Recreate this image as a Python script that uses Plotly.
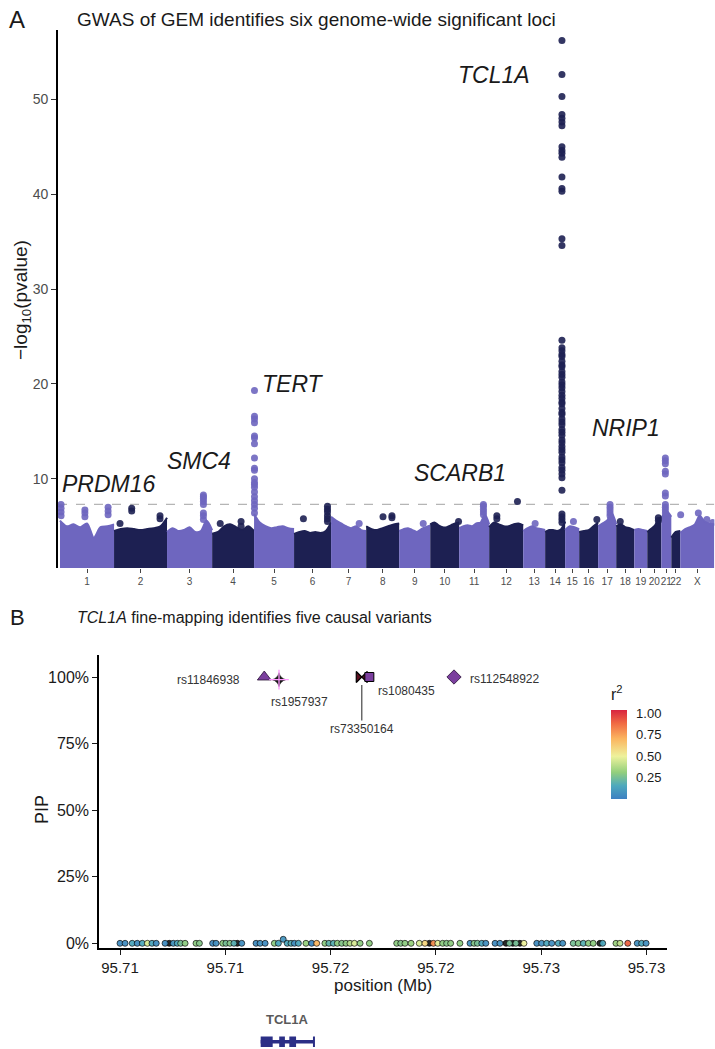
import plotly.graph_objects as go

W, H = 715, 1049


def px(x):
    return x / W


def py(y):
    return 1 - y / H


NARROW = "Liberation Sans Narrow, Arial Narrow, Liberation Sans, Arial, sans-serif"
SANS = "Liberation Sans, Arial, Helvetica, sans-serif"

# ======================= Panel A data (Manhattan) =======================
chrom_names = [str(i) for i in range(1, 23)] + ["X"]
# plotted span of each chromosome (Mb-equivalent units)
chrom_span = [254, 249, 212, 197, 188, 174, 165, 155, 146, 136, 141, 160,
              103, 94, 66, 89, 85, 85, 61, 66, 47, 42, 160]
# upper envelope of the dense background point cloud (-log10 p), evenly spaced per chromosome
skyline_logp = [
    [5.6, 5.0, 5.2, 4.9, 5.3, 3.8, 4.9, 5.0, 5.2],
    [4.5, 4.7, 4.8, 4.7, 4.6, 4.7, 4.8, 5.0, 5.9],
    [4.4, 4.8, 4.5, 4.6, 4.9, 4.4, 4.5, 5.6, 4.6],
    [4.2, 4.4, 5.0, 5.2, 4.9, 4.6, 5.0, 4.5],
    [6.3, 5.4, 5.0, 4.8, 4.9, 5.0, 4.8, 4.7],
    [4.2, 4.4, 4.5, 4.3, 4.4, 4.3, 4.5, 5.4],
    [6.0, 5.6, 5.3, 5.0, 4.8, 5.0, 4.6, 4.5],
    [5.0, 4.7, 4.6, 4.8, 5.0, 5.2, 5.3],
    [4.5, 4.7, 4.8, 4.6, 4.4, 4.7, 4.9, 5.1],
    [5.2, 5.4, 5.1, 4.9, 4.9, 5.1, 5.3, 5.4],
    [4.8, 5.0, 5.1, 5.0, 5.3, 5.4, 6.2, 5.2],
    [4.9, 5.4, 5.2, 5.0, 5.0, 5.2, 5.3, 5.1],
    [4.5, 4.8, 5.0, 4.8, 4.7, 4.6],
    [4.4, 4.6, 4.6, 4.5, 4.7, 5.5],
    [4.6, 5.0, 4.9, 4.7],
    [4.4, 4.5, 4.6, 5.0, 5.4],
    [5.0, 5.3, 5.6, 6.4, 5.2],
    [5.0, 5.2, 4.9, 4.8, 4.6],
    [4.6, 4.7, 4.6, 4.5],
    [4.4, 4.7, 5.0, 5.6, 6.0],
    [5.8, 6.6, 6.0],
    [3.8, 4.4, 4.5],
    [4.3, 4.7, 4.9, 5.2, 6.1, 5.5, 5.3, 5.2],
]
# individual SNPs standing above the background cloud
hit_chrom = ["1", "1", "1", "2", "2", "2", "3", "4", "4", "5", "6", "6", "7", "8", "8",
             "9", "10", "11", "12", "12", "13", "14", "15", "16", "17", "18", "20", "21",
             "X", "X", "X", "X"]
hit_offset = [5, 117, 226, 28, 83, 216, 171, 38, 136, 2, 44, 157, 132, 79, 121,
              113, 133, 114, 36, 133, 56, 79, 39, 83, 56, 19, 52, 19,
              2, 85, 125, 153]
hit_logp = [
    [7.3, 6.9, 6.5, 6.1],
    [6.7, 6.4, 6.0],
    [7.0, 6.6, 6.2],
    [5.3],
    [6.9, 6.6],
    [6.1, 5.8],
    [8.3, 8.1, 7.9, 7.6, 7.3, 6.4, 6.1, 5.7],
    [5.3],
    [5.5, 5.0],
    [19.3, 16.6, 16.3, 15.9, 14.5, 14.3, 13.7, 12.2, 11.1, 10.9, 10.0, 9.6, 9.4,
     9.1, 8.6, 8.1, 7.7, 7.3, 6.9, 6.4],
    [5.8],
    [7.1, 6.8, 6.5, 6.1, 5.8, 5.5],
    [5.3],
    [6.0],
    [6.1, 5.9],
    [5.3],
    [5.5],
    [7.3, 7.1, 6.8, 6.5, 6.2],
    [6.1, 5.8],
    [7.6],
    [5.3],
    [56.2, 52.6, 50.3, 48.4, 48.0, 47.6, 47.2, 45.0, 44.6, 44.3, 43.9, 41.8, 40.6,
     40.3, 35.3, 34.6, 24.6, 23.8, 23.5, 23.1, 22.9, 22.4, 22.0, 21.8, 21.3, 21.0,
     20.7, 20.2, 19.9, 19.6, 19.2, 18.8, 18.5, 18.1, 17.9, 17.4, 17.0, 16.8, 16.3,
     16.0, 15.7, 15.2, 14.9, 14.6, 14.1, 13.8, 13.4, 13.1, 12.8, 12.3, 12.0, 11.7,
     11.2, 10.9, 10.5, 10.1, 8.8, 6.3, 6.0, 5.7, 5.4],
    [5.5],
    [5.7],
    [7.3, 7.0, 6.7, 6.4, 6.1],
    [5.5],
    [5.9, 5.6],
    [12.2, 11.9, 11.6, 10.8, 10.5, 8.5, 8.2, 7.3, 7.0, 6.7, 6.4],
    [6.2],
    [6.4],
    [5.7],
    [5.4],
]
gw_threshold = 7.3  # -log10(5e-8)
locus_labels = ["PRDM16", "SMC4", "TERT", "SCARB1", "TCL1A", "NRIP1"]
y_ticks_a = [10, 20, 30, 40, 50]

# ======================= Panel B data (fine-mapping) =======================
lead_snp = ["rs11846938", "rs1957937", "rs73350164", "rs1080435", "rs112548922"]
lead_pos = [95.71685, 95.71755, 95.72148, 95.72184, 95.72586]
lead_pip = [1.00, 0.99, 1.00, 1.00, 1.00]

bg_pos = [95.71000, 95.71024, 95.71058, 95.71082, 95.71106, 95.71130, 95.71152, 95.71172,
          95.71214, 95.71234, 95.71253, 95.71272, 95.71288, 95.71309,
          95.71361, 95.71377,
          95.71440, 95.71456, 95.71488, 95.71503, 95.71522, 95.71541, 95.71557, 95.71578,
          95.71646, 95.71665, 95.71689,
          95.71733, 95.71752, 95.71775, 95.71794, 95.71812, 95.71828, 95.71847,
          95.71883, 95.71910, 95.71934,
          95.71973, 95.71992, 95.72013, 95.72032, 95.72053, 95.72073, 95.72092, 95.72113,
          95.72140, 95.72184,
          95.72314, 95.72333, 95.72353, 95.72382, 95.72421, 95.72448, 95.72469, 95.72488,
          95.72509, 95.72532, 95.72551, 95.72570, 95.72614,
          95.72662, 95.72681, 95.72697, 95.72718, 95.72737,
          95.72781, 95.72804, 95.72833, 95.72849, 95.72865, 95.72880, 95.72899, 95.72918,
          95.72979, 95.73002, 95.73026, 95.73050, 95.73081, 95.73102,
          95.73152, 95.73176, 95.73200, 95.73224, 95.73247, 95.73279, 95.73292,
          95.73355, 95.73374, 95.73411, 95.73456, 95.73477, 95.73498]
bg_r2 = [0.05, 0.05, 0.15, 0.05, 0.15, 0.45, 0.15, 0.05,
         0.05, None, 0.08, 0.15, 0.25, 0.30,
         0.30, 0.28,
         0.05, 0.06, 0.30, 0.25, 0.28, 0.18, None, 0.06,
         0.05, 0.07, 0.05,
         0.30, 0.15, 0.08, 0.15, 0.18, 0.06, 0.15,
         0.32, 0.03, 0.70,
         0.30, 0.20, 0.18, 0.30, 0.28, 0.30, 0.38, 0.45,
         0.30, 0.30,
         0.30, 0.28, 0.30, 0.32, 0.45, 0.60, None, 0.80,
         0.48, 0.30, 0.28, 0.30, 0.30,
         0.06, 0.28, 0.25, 0.15, 0.06,
         0.05, 0.06, None, 0.25, None, 0.25, None, 0.50,
         0.05, 0.07, 0.15, 0.06, 0.15, 0.06,
         0.25, 0.28, 0.18, 0.30, 0.30, None, 0.15,
         0.33, 0.40, 0.90, 0.06, 0.15, 0.06]
bg_pip = [0.0] * len(bg_pos)
bg_pip[bg_pos.index(95.71775)] = 0.015

x_ticks_b = [95.710, 95.715, 95.720, 95.725, 95.730, 95.735]
x_tick_labels_b = ["95.71", "95.71", "95.72", "95.72", "95.73", "95.73"]
y_ticks_b = [0, 0.25, 0.5, 0.75, 1.0]
y_tick_labels_b = ["0%", "25%", "50%", "75%", "100%"]

gene_name = "TCL1A"
gene_span = [95.71668, 95.71921]
gene_exons = [[95.71668, 95.71725], [95.71756, 95.71783], [95.71804, 95.71836]]

# ======================= build figure =======================
LIGHT = "#6e66bf"
DARK = "#1d2052"
PURPLE = "#7b3f9e"

fig = go.Figure()

chrom_start = []
acc = 0
for s in chrom_span:
    chrom_start.append(acc)
    acc += s
genome_end = acc
chrom_center = [st + sp / 2 for st, sp in zip(chrom_start, chrom_span)]
chrom_color = {c: (LIGHT if i % 2 == 0 else DARK) for i, c in enumerate(chrom_names)}

# background cloud
for i, c in enumerate(chrom_names):
    hs = skyline_logp[i]
    n = len(hs)
    xs = [chrom_start[i] + k * chrom_span[i] / (n - 1) for k in range(n)]
    fig.add_trace(go.Scatter(
        x=xs, y=hs, mode="lines", fill="tozeroy", fillcolor=chrom_color[c],
        line=dict(color=chrom_color[c], width=2, shape="spline", smoothing=0.8),
        xaxis="x", yaxis="y", hoverinfo="skip", showlegend=False))

# stand-alone SNPs
for c in chrom_names:
    xs, ys = [], []
    for hc, off, vals in zip(hit_chrom, hit_offset, hit_logp):
        if hc != c:
            continue
        ci = chrom_names.index(hc)
        for v in vals:
            xs.append(chrom_start[ci] + off)
            ys.append(v)
    if xs:
        fig.add_trace(go.Scatter(
            x=xs, y=ys, mode="markers",
            marker=dict(size=7, color=chrom_color[c], opacity=0.9, line=dict(width=0)),
            xaxis="x", yaxis="y", showlegend=False))

# ---- panel B traces ----
cs = [[0.0, "#3d80c2"], [0.15, "#4ea9bd"], [0.3, "#93cf7c"], [0.48, "#eef29c"],
      [0.68, "#fbb45f"], [0.85, "#f06a43"], [1.0, "#d8243f"]]
na_x = [p for p, r in zip(bg_pos, bg_r2) if r is None]
na_y = [q for q, r in zip(bg_pip, bg_r2) if r is None]
ok_x = [p for p, r in zip(bg_pos, bg_r2) if r is not None]
ok_y = [q for q, r in zip(bg_pip, bg_r2) if r is not None]
ok_c = [r for r in bg_r2 if r is not None]
fig.add_trace(go.Scatter(
    x=na_x, y=na_y, mode="markers", xaxis="x2", yaxis="y2",
    marker=dict(size=6, color="#2b2b2b", line=dict(color="black", width=0.7)),
    showlegend=False))
fig.add_trace(go.Scatter(
    x=ok_x, y=ok_y, mode="markers", xaxis="x2", yaxis="y2",
    marker=dict(size=6, color=ok_c, colorscale=cs, cmin=0, cmax=1.04, opacity=0.95,
                line=dict(color="black", width=0.7),
                colorbar=dict(
                    x=px(611), xanchor="left", xpad=0,
                    y=py(742), yanchor="middle", ypad=0,
                    len=114, lenmode="pixels", thickness=16, thicknessmode="pixels",
                    outlinewidth=0,
                    tickvals=[0.25, 0.5, 0.75, 1.0],
                    ticktext=["0.25", "0.50", "0.75", "1.00"],
                    ticks="outside", ticklen=7, tickcolor="rgba(0,0,0,0)",
                    tickfont=dict(family=SANS, size=13, color="#1a1a1a"),
                    title=dict(text="r<sup>2</sup>", side="top",
                               font=dict(family=SANS, size=16, color="#1a1a1a")))),
    showlegend=False))

lead_style = {
    "rs11846938": dict(symbol="triangle-up", size=12, color=PURPLE, line=dict(color="#2a1236", width=0.8)),
    "rs1957937": dict(symbol="star-diamond", size=10, color="#1a1a1a", line=dict(color="#1a1a1a", width=0.5)),
    "rs73350164": dict(symbol="bowtie", size=11, color="#5c0f1f", line=dict(color="black", width=1.2)),
    "rs1080435": dict(symbol="square", size=9, color=PURPLE, line=dict(color="black", width=1)),
    "rs112548922": dict(symbol="diamond", size=11, color=PURPLE, line=dict(color="#2a1236", width=0.8)),
}
for s, p, q in zip(lead_snp, lead_pos, lead_pip):
    fig.add_trace(go.Scatter(x=[p], y=[q], mode="markers", xaxis="x2", yaxis="y2",
                             marker=lead_style[s], showlegend=False))
    if s == "rs1957937":
        fig.add_trace(go.Scatter(x=[p], y=[q], mode="markers", xaxis="x2", yaxis="y2",
                                 marker=dict(symbol="cross-thin-open", size=14,
                                             line=dict(color="#1a1a1a", width=1.3)),
                                 showlegend=False))

# ======================= annotations =======================
ann = []


def paper_text(text, x, y, font, angle=0, xanchor="center"):
    ann.append(dict(text=text, x=px(x), y=py(y), xref="paper", yref="paper",
                    xanchor=xanchor, yanchor="middle", textangle=angle,
                    showarrow=False, font=font))


paper_text("A", 17, 20, dict(family=SANS, size=24, color="#1a1a1a"))
paper_text("GWAS of GEM identifies six genome-wide significant loci", 75, 20,
           dict(family=NARROW, size=19, color="#1a1a1a"), xanchor="left")
label_px = {"PRDM16": (109, 484), "SMC4": (199, 461), "TERT": (293, 384),
            "SCARB1": (460, 473), "TCL1A": (494, 75), "NRIP1": (626, 428)}
for lab in locus_labels:
    lx, ly = label_px[lab]
    paper_text(f"<i>{lab}</i>", lx, ly, dict(family=NARROW, size=23, color="#1a1a1a"))
paper_text("−log<sub>10</sub>(pvalue)", 22, 300,
           dict(family=NARROW, size=19, color="#1a1a1a"), angle=-90)

paper_text("B", 17, 617, dict(family=SANS, size=22, color="#1a1a1a"))
paper_text("<i>TCL1A</i> fine-mapping identifies five causal variants", 75, 617,
           dict(family=SANS, size=16, color="#1a1a1a"), xanchor="left")
paper_text("PIP", 42, 810, dict(family=SANS, size=18, color="#1a1a1a"), angle=-90)
paper_text("position (Mb)", 383, 985, dict(family=SANS, size=17, color="#1a1a1a"))

lab_font = dict(family=SANS, size=12, color="#333333")
lab_cfg = {
    "rs11846938": dict(xanchor="right", xshift=-22, yshift=-3),
    "rs1957937": dict(xanchor="center", xshift=20, yshift=-22),
    "rs1080435": dict(xanchor="center", xshift=37, yshift=-14),
    "rs112548922": dict(xanchor="left", xshift=14, yshift=-2),
}
for s, p, q in zip(lead_snp, lead_pos, lead_pip):
    if s == "rs73350164":
        ann.append(dict(text=s, x=p, y=q, xref="x2", yref="y2", showarrow=True,
                        arrowhead=0, arrowwidth=1.3, arrowcolor="#555555", ax=0, ay=52,
                        standoff=8, font=lab_font))
    else:
        cfg = lab_cfg[s]
        ann.append(dict(text=s, x=p, y=q, xref="x2", yref="y2", showarrow=False,
                        yanchor="middle", font=lab_font, **cfg))

ann.append(dict(text=f"<b>{gene_name}</b>", x=(gene_span[0] + gene_span[1]) / 2, y=py(1019),
                xref="x2", yref="paper", xanchor="center", yanchor="middle", showarrow=False,
                font=dict(family=SANS, size=13, color="#5a5a5a")))

# ======================= shapes =======================
shapes = [dict(type="line", xref="x", yref="y", x0=-9.4, x1=genome_end, y0=gw_threshold,
               y1=gw_threshold, line=dict(color="#b5b5b5", width=1.3, dash="dash"),
               layer="below")]
GENE = "#2b2f86"
shapes.append(dict(type="rect", xref="x2", yref="paper", x0=gene_span[0], x1=gene_span[1],
                   y0=py(1043.5), y1=py(1040), fillcolor=GENE, line=dict(width=0)))
for e0, e1 in gene_exons:
    shapes.append(dict(type="rect", xref="x2", yref="paper", x0=e0, x1=e1,
                       y0=py(1047), y1=py(1036.5), fillcolor=GENE, line=dict(width=0)))
shapes.append(dict(type="line", xref="x2", yref="paper", x0=gene_span[1], x1=gene_span[1],
                   y0=py(1047), y1=py(1036.5), line=dict(color=GENE, width=2)))

fig.update_layout(
    width=W, height=H, margin=dict(l=0, r=0, t=0, b=0, autoexpand=False),
    paper_bgcolor="white", plot_bgcolor="white",
    showlegend=False,
    annotations=ann, shapes=shapes,
    xaxis=dict(domain=[px(58), px(714.3)], range=[-9.4, genome_end], anchor="y",
               tickvals=chrom_center, ticktext=chrom_names, tickangle=0, ticks="outside",
               ticklen=4, tickcolor="#444444", tickwidth=1, showline=False, showgrid=False,
               zeroline=False, tickfont=dict(family=NARROW, size=10, color="#4d4d4d")),
    yaxis=dict(domain=[py(568), py(30)], range=[0.6, 57.3], anchor="x",
               tickvals=y_ticks_a, ticks="outside", ticklen=5, tickcolor="#333333",
               showline=True, linecolor="black", linewidth=1.6, showgrid=False,
               zeroline=False, tickfont=dict(family=NARROW, size=14, color="#4d4d4d")),
    xaxis2=dict(domain=[px(99), px(667)], range=[95.709003, 95.735973], anchor="y2",
                tickvals=x_ticks_b, ticktext=x_tick_labels_b, tickangle=0, ticks="outside",
                ticklen=5, tickcolor="#1a1a1a", showline=True, linecolor="black",
                linewidth=1.6, showgrid=False, zeroline=False,
                tickfont=dict(family=SANS, size=15, color="#1a1a1a")),
    yaxis2=dict(domain=[py(947.7), py(655)], range=[-0.0165, 1.0826], anchor="x2",
                tickvals=y_ticks_b, ticktext=y_tick_labels_b, ticks="outside", ticklen=5,
                tickcolor="#1a1a1a", showline=True, linecolor="black", linewidth=1.6,
                showgrid=False, zeroline=False,
                tickfont=dict(family=SANS, size=16, color="#1a1a1a")),
)

fig.write_html("out.html", config={"displayModeBar": False},
               post_script="document.body.style.margin='0';document.body.style.overflow='hidden';")
